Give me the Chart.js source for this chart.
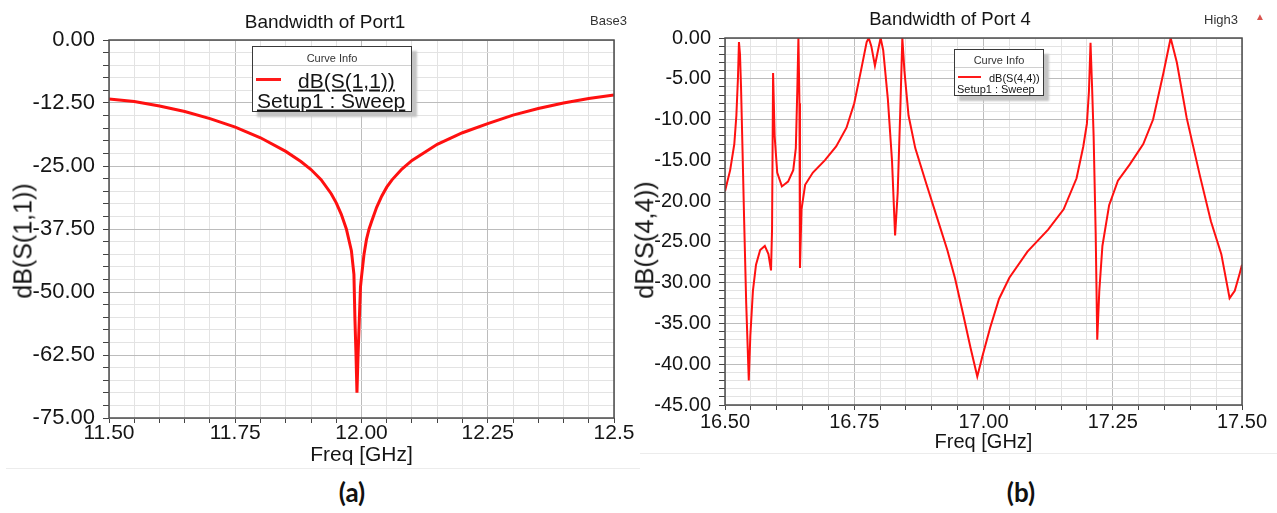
<!DOCTYPE html>
<html>
<head>
<meta charset="utf-8">
<script src="https://cdn.jsdelivr.net/npm/chart.js@4.4.1/dist/chart.umd.min.js"></script>
<style>
  body { margin: 0; background: #fff; width: 1277px; height: 513px; position: relative; overflow: hidden;
         font-family: "Liberation Sans", Arial, sans-serif; color: #151515; }
  .panel { position: absolute; top: 0; height: 470px; }
  #panelA { left: 0; width: 640px; }
  #panelB { left: 640px; width: 637px; }
  .panel canvas { position: absolute; left: 0; top: 0; }
  .t { position: absolute; white-space: nowrap; line-height: 1; }
  .cc { transform: translate(-50%, -50%); }
  .cy { transform: translateY(-50%); }
  .rot { transform: translate(-50%, -50%) rotate(-90deg); }
  .legend { position: absolute; box-sizing: border-box; background: #fff; border: 1px solid #3a3a3a;
            box-shadow: 5px 5px 2px #c4c4c4; }
  .legend .sep { position: absolute; left: 0; right: 0; height: 1px; background: #d0d0d0; }
  .legend .sw { position: absolute; background: #ff1a1a; }
  .u { text-decoration: underline; text-underline-offset: 2px; }
  .edge { position: absolute; height: 1px; background: #ececec; }
  .cap { position: absolute; font-family: Lato, "Open Sans", sans-serif; font-weight: 700; font-size: 26px;
         line-height: 1; transform: translate(-50%, -50%); color: #111; }
</style>
</head>
<body>

<div class="panel" id="panelA">
  <canvas id="chartA" width="640" height="470"></canvas>
  <div class="t cc" style="left:325px; top:21px; font-size:19px;">Bandwidth of Port1</div>
  <div class="t cy" style="left:590px; top:20px; font-size:13px; color:#333;">Base3</div>
  <div class="t rot" style="left:23px; top:241px; font-size:25px;">dB(S(1,1))</div>
  <div class="legend" style="left:252px; top:46px; width:160px; height:66px;">
    <div class="t cc" style="left:50%; top:11px; font-size:11px; color:#333;">Curve Info</div>
    <div class="sep" style="top:18px;"></div>
    <div class="sw" style="left:3px; top:31px; width:25px; height:3px;"></div>
    <div class="t cy u" style="left:45px; top:33px; font-size:21px;">dB(S(1,1))</div>
    <div class="t cy u" style="left:4px; top:53px; font-size:21px;">Setup1 : Sweep</div>
  </div>
  <div class="edge" style="left:6px; width:634px; top:468px;"></div>
</div>

<div class="panel" id="panelB">
  <canvas id="chartB" width="637" height="470"></canvas>
  <div class="t cc" style="left:310px; top:19px; font-size:18.5px;">Bandwidth of Port 4</div>
  <div class="t cy" style="left:564px; top:19px; font-size:13px; color:#333;">High3</div>
  <div class="t cc" style="left:620px; top:17px; font-size:10px; color:#d9534f;">▲</div>
  <div class="t rot" style="left:5px; top:240px; font-size:25.5px;">dB(S(4,4))</div>
  <div class="legend" style="left:314px; top:49px; width:90px; height:47px;">
    <div class="t cc" style="left:50%; top:10px; font-size:11px; color:#333;">Curve Info</div>
    <div class="sep" style="top:17px;"></div>
    <div class="sw" style="left:3px; top:26px; width:23px; height:2px;"></div>
    <div class="t cy" style="left:34px; top:28px; font-size:11px;">dB(S(4,4))</div>
    <div class="t cy" style="left:2px; top:39px; font-size:11px;">Setup1 : Sweep</div>
  </div>
  <div class="edge" style="left:0; width:637px; top:453px;"></div>
</div>

<div class="cap" style="left:352px; top:492px;">(a)</div>
<div class="cap" style="left:1021px; top:492px;">(b)</div>

<script>
// Port 1 reflection, 11.5 - 12.5 GHz
const freqA = [11.50, 11.55, 11.60, 11.65, 11.70, 11.75, 11.80, 11.85, 11.88, 11.90, 11.92, 11.94, 11.95,
               11.96, 11.97, 11.98, 11.985, 11.987, 11.989, 11.991, 11.993, 11.996, 11.998, 12.000, 12.005,
               12.010, 12.015, 12.020, 12.030, 12.040, 12.050, 12.060, 12.080, 12.100, 12.150, 12.200,
               12.250, 12.300, 12.350, 12.400, 12.450, 12.500];
const s11 = [-11.7, -12.2, -13.1, -14.2, -15.6, -17.3, -19.4, -22.1, -24.1, -25.7, -27.7, -30.5, -32.3,
             -34.6, -37.5, -41.8, -46.5, -55.4, -62.0, -70.0, -63.0, -54.5, -49.0, -47.0, -42.5,
             -39.5, -37.5, -36.0, -33.2, -31.0, -29.2, -27.8, -25.6, -23.9, -20.7, -18.4,
             -16.6, -14.9, -13.6, -12.5, -11.6, -10.9];

// Port 4 reflection, 16.5 - 17.5 GHz
const freqB = [16.500, 16.510, 16.518, 16.522, 16.525, 16.527, 16.529, 16.531, 16.534, 16.537, 16.541,
               16.546, 16.549, 16.554, 16.560, 16.568, 16.577, 16.584, 16.589, 16.591, 16.593, 16.596,
               16.601, 16.610, 16.622, 16.632, 16.637, 16.640, 16.642, 16.644, 16.645, 16.648, 16.655,
               16.670, 16.693, 16.715, 16.735, 16.750, 16.763, 16.774, 16.778, 16.783, 16.790, 16.796,
               16.801, 16.806, 16.815, 16.823, 16.829, 16.834, 16.839, 16.843, 16.847, 16.855, 16.868,
               16.890, 16.910, 16.930, 16.945, 16.960, 16.975, 16.988, 16.998, 17.013, 17.030, 17.050,
               17.085, 17.125, 17.155, 17.180, 17.193, 17.200, 17.204, 17.207, 17.210, 17.213, 17.217,
               17.220, 17.224, 17.230, 17.243, 17.260, 17.283, 17.309, 17.328, 17.348, 17.362, 17.374,
               17.393, 17.419, 17.440, 17.460, 17.476, 17.486, 17.495, 17.500];
const s44 = [-18.8, -16.2, -13.0, -9.5, -5.0, -0.5, -2.0, -6.0, -14.0, -22.3, -32.5,
             -42.0, -36.5, -31.0, -27.8, -26.0, -25.5, -26.5, -28.5, -23.5, -4.3, -12.0,
             -16.5, -18.2, -17.6, -16.2, -13.5, -6.0, 0.0, -8.0, -28.2, -21.0, -18.0,
             -16.5, -15.0, -13.3, -11.0, -8.0, -4.0, -0.5, 0.0, -1.0, -3.4, -1.5,
             0.0, -1.5, -7.5, -15.0, -24.2, -19.0, -9.0, 0.0, -4.0, -9.5, -13.5,
             -18.0, -22.0, -26.0, -29.5, -33.7, -38.0, -41.5, -39.0, -35.5, -32.0, -29.4,
             -26.2, -23.5, -21.0, -17.2, -13.3, -10.5, -6.5, -0.6, -6.0, -12.0, -24.0,
             -37.0, -31.0, -25.5, -20.5, -17.5, -15.5, -13.0, -10.0, -4.3, 0.0, -3.0,
             -9.8, -17.0, -22.5, -26.5, -31.9, -31.0, -29.0, -27.8];

// labelled (major) ticks
const xMajorA = [11.5, 11.75, 12.0, 12.25, 12.5];
const xLabelsA = ['11.50', '11.75', '12.00', '12.25', '12.5'];
const yMajorA = [0, -12.5, -25, -37.5, -50, -62.5, -75];
const yLabelsA = ['0.00', '-12.50', '-25.00', '-37.50', '-50.00', '-62.50', '-75.00'];

const xMajorB = [16.5, 16.75, 17.0, 17.25, 17.5];
const xLabelsB = ['16.50', '16.75', '17.00', '17.25', '17.50'];
const yMajorB = [0, -5, -10, -15, -20, -25, -30, -35, -40, -45];
const yLabelsB = ['0.00', '-5.00', '-10.00', '-15.00', '-20.00', '-25.00', '-30.00', '-35.00', '-40.00', '-45.00'];

const GRID_MAJOR = '#bcbcbc';
const GRID_MINOR = '#e3e3e3';
const near = (a, b) => Math.abs(a - b) < 1e-6;

function steps(min, max, step) {
  const out = [];
  const n = Math.round((max - min) / step);
  for (let i = 0; i <= n; i++) out.push(Math.round((min + i * step) * 1000) / 1000);
  return out;
}

function labelFor(value, majors, labels) {
  const i = majors.findIndex(m => near(m, value));
  return i < 0 ? '' : labels[i];
}

// box round the plot area, like the solver's report window
const framePlugin = {
  id: 'frame',
  afterDraw(chart) {
    const { ctx, chartArea: a } = chart;
    ctx.save();
    ctx.strokeStyle = '#4d4d4d';
    ctx.lineWidth = 1.5;
    ctx.strokeRect(a.left, a.top, a.right - a.left, a.bottom - a.top);
    ctx.restore();
  }
};

function drawPanel(canvasId, p) {
  const canvas = document.getElementById(canvasId);
  const majorColor = (majors) => (ctx) => majors.some(m => near(m, ctx.tick.value)) ? GRID_MAJOR : GRID_MINOR;

  new Chart(canvas, {
    type: 'line',
    data: {
      datasets: [{
        data: p.freq.map((f, i) => ({ x: f, y: p.db[i] })),
        borderColor: '#ff1010',
        borderWidth: p.lineWidth,
        pointRadius: 0,
        tension: 0
      }]
    },
    options: {
      responsive: false,
      animation: false,
      devicePixelRatio: 1,
      layout: { padding: { left: 0, top: p.top, right: p.right, bottom: 0 } },
      plugins: { legend: { display: false }, tooltip: { enabled: false } },
      scales: {
        x: {
          type: 'linear',
          min: p.xMin, max: p.xMax,
          afterBuildTicks: (s) => { s.ticks = steps(p.xMin, p.xMax, p.xStep).map(v => ({ value: v })); },
          afterFit: (s) => { s.height = p.xAxisHeight; },
          grid: { color: majorColor(p.xMajor), lineWidth: 1, tickLength: 5, tickColor: '#444' },
          border: { display: false },
          ticks: {
            autoSkip: false, maxRotation: 0, padding: p.xTickPad, color: '#151515',
            font: { family: 'Liberation Sans', size: p.xTickSize, lineHeight: 1 },
            callback: (v) => labelFor(v, p.xMajor, p.xLabels)
          },
          title: {
            display: true, text: 'Freq [GHz]', color: '#151515',
            font: { family: 'Liberation Sans', size: p.xTitleSize, lineHeight: 1 },
            padding: { top: 0, bottom: p.xTitlePad }
          }
        },
        y: {
          min: p.yMin, max: p.yMax,
          afterBuildTicks: (s) => { s.ticks = steps(p.yMin, p.yMax, p.yStep).map(v => ({ value: v })); },
          afterFit: (s) => { s.width = p.yAxisWidth; },
          grid: { color: majorColor(p.yMajor), lineWidth: 1, tickLength: 6, tickColor: '#444' },
          border: { display: false },
          ticks: {
            autoSkip: false, padding: p.yTickPad, color: '#151515',
            font: { family: 'Liberation Sans', size: p.yTickSize, lineHeight: 1 },
            callback: (v) => labelFor(v, p.yMajor, p.yLabels)
          }
        }
      }
    },
    plugins: [framePlugin]
  });
}

drawPanel('chartA', {
  freq: freqA, db: s11, lineWidth: 3,
  xMin: 11.5, xMax: 12.5, xStep: 0.05, xMajor: xMajorA, xLabels: xLabelsA,
  yMin: -75, yMax: 0, yStep: 2.5, yMajor: yMajorA, yLabels: yLabelsA,
  top: 40, right: 26, xAxisHeight: 52, yAxisWidth: 109,
  xTickSize: 21, xTickPad: 0, yTickSize: 22, yTickPad: 8,
  xTitleSize: 21, xTitlePad: 4
});

drawPanel('chartB', {
  freq: freqB, db: s44, lineWidth: 2,
  xMin: 16.5, xMax: 17.5, xStep: 0.05, xMajor: xMajorB, xLabels: xLabelsB,
  yMin: -45, yMax: 0, yStep: 1, yMajor: yMajorB, yLabels: yLabelsB,
  top: 38, right: 35, xAxisHeight: 65, yAxisWidth: 85,
  xTickSize: 20, xTickPad: 2, yTickSize: 20, yTickPad: 8,
  xTitleSize: 20, xTitlePad: 18
});
</script>
</body>
</html>
